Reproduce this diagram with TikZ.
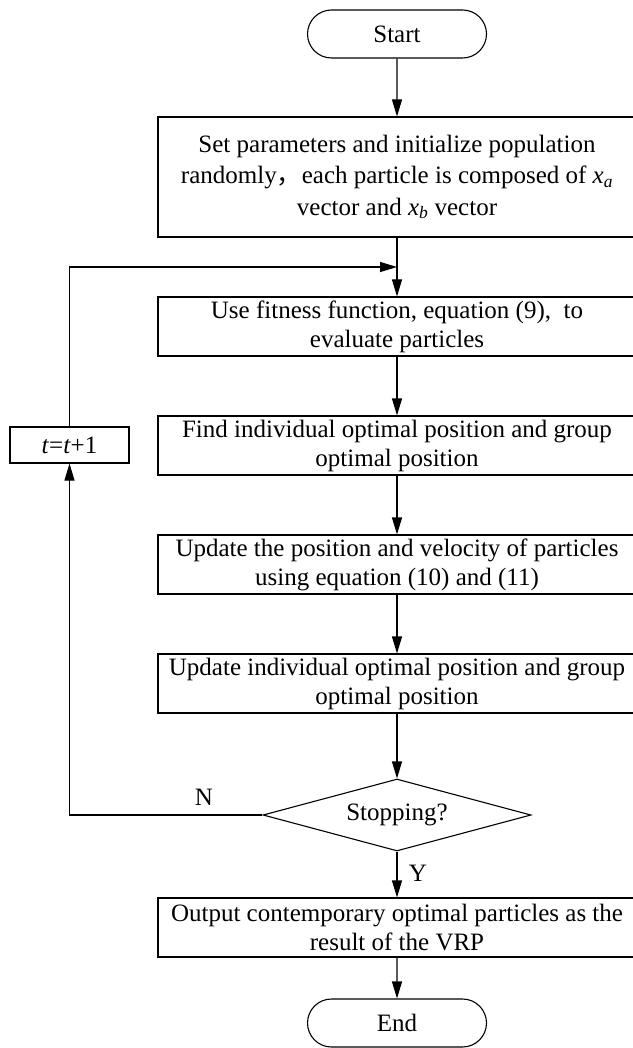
\documentclass[tikz,border=0pt]{standalone}
\usepackage{fontspec}
\setmainfont{Liberation Serif}
\newfontfamily\cjk{Noto Sans CJK SC}
\usetikzlibrary{arrows.meta,shapes.geometric,shapes.misc}
\begin{document}
\begin{tikzpicture}[x=1pt,y=-1pt,
  font=\fontsize{25pt}{29pt}\selectfont,
  every node/.style={inner sep=0pt},
  conn/.style={line width=1.1pt,-{Triangle[length=17pt,width=10pt]}},
  plain/.style={line width=1.1pt},
  procbox/.style={draw,line width=1.1pt,rectangle,minimum width=490pt,minimum height=59pt,align=center,xshift=6pt},
  termbox/.style={draw,line width=1.1pt,rounded rectangle,minimum width=179pt,minimum height=48pt},
  decbox/.style={draw,line width=1.1pt,diamond,aspect=3.7,minimum width=268pt,minimum height=72pt},
  lbl/.style={font=\fontsize{25pt}{29pt}\selectfont}]
\useasboundingbox (0,0) rectangle (632,1048);

% boxes run past the right margin; text stays centred on the main flow line
\node[termbox] (start) at (397,34) {Start};
\node[procbox,minimum height=120pt,font=\fontsize{25pt}{31.5pt}\selectfont] (init) at (397,177)
  {\hspace*{-12pt}Set parameters and initialize population\\
   \hspace*{-12pt}randomly{\cjk ，}each particle is composed of \textit{x}\textsubscript{\textit{a}}\\
   \hspace*{-12pt}vector and \textit{x}\textsubscript{\textit{b}} vector};
\node[procbox] (eval) at (397,326.5) {\hspace*{-12pt}Use fitness function, equation (9),\ \ to\\ \hspace*{-12pt}evaluate particles};
\node[procbox] (find) at (397,445.5) {\hspace*{-12pt}Find individual optimal position and group\\ \hspace*{-12pt}optimal position};
\node[procbox] (upd) at (397,564.5) {\hspace*{-12pt}Update the position and velocity of particles\\ \hspace*{-12pt}using equation (10) and (11)};
\node[procbox] (updbest) at (397,683.5) {\hspace*{-12pt}Update individual optimal position and group\\ \hspace*{-12pt}optimal position};
\node[decbox] (stop) at (397,815) {Stopping?};
\node[procbox] (out) at (397,927.5) {\hspace*{-12pt}Output contemporary optimal particles as the\\ \hspace*{-12pt}result of the VRP};
\node[termbox] (end) at (397,1023) {End};
\node[draw,line width=1.1pt,minimum width=119pt,minimum height=36pt] (inc) at (69.5,445) {\textit{t}=\textit{t}+1};

\coordinate (merge) at (397,267);
\coordinate (cornerlow) at (69.5,815);
\coordinate (cornerhigh) at (69.5,267);

\draw[conn] (start) -- (init.north -| start);
\draw[plain] (init.south -| start) -- (merge);
\draw[conn] (merge) -- (eval.north -| merge);
\draw[conn] (eval.south -| merge) -- (find.north -| merge);
\draw[conn] (find.south -| merge) -- (upd.north -| merge);
\draw[conn] (upd.south -| merge) -- (updbest.north -| merge);
\draw[conn] (updbest.south -| merge) -- (stop);
\draw[conn] (stop) -- (out.north -| stop);
\draw[conn] (out.south -| stop) -- (end);
\draw[conn] (stop.west) -- (cornerlow) -- (inc.south);
\draw[conn] (inc.north) -- (cornerhigh) -- (merge);

\node[lbl] (nlbl) at (204,797) {N};
\node[lbl] (ylbl) at (418,873) {Y};
\end{tikzpicture}
\end{document}
